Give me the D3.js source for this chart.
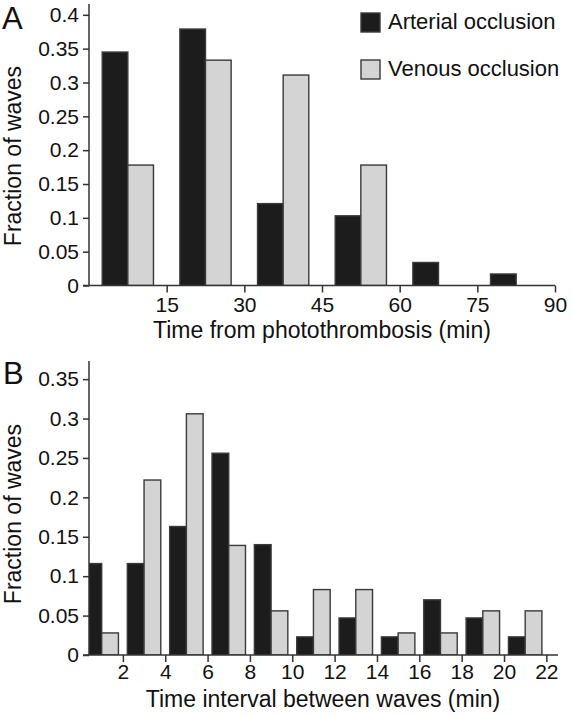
<!DOCTYPE html>
<html>
<head>
<meta charset="utf-8">
<script src="https://cdn.jsdelivr.net/npm/d3@7"></script>
<style>
  html, body { margin: 0; padding: 0; background: #fff; }
  svg { display: block; }
  text { font-family: "Liberation Sans", Arial, Helvetica, sans-serif; fill: #111; }
</style>
</head>
<body>
<svg id="chart" width="573" height="716"></svg>
<script>
// ---------- DATA ----------
const seriesNames = ["Arterial occlusion", "Venous occlusion"];

// Panel A: time from photothrombosis, 15-min bins
const binsA = [0, 15, 30, 45, 60, 75];           // bin starts (min)
const binWidthA = 15;
const arterialA = [0.345, 0.379, 0.121, 0.103, 0.034, 0.017];
const venousA   = [0.178, 0.333, 0.311, 0.178, 0, 0];
const yTicksA = [0, 0.05, 0.1, 0.15, 0.2, 0.25, 0.3, 0.35, 0.4];
const xTicksA = [15, 30, 45, 60, 75, 90];

// Panel B: time interval between waves, 2-min bins
const binsB = [0, 2, 4, 6, 8, 10, 12, 14, 16, 18, 20];
const binWidthB = 2;
const arterialB = [0.116, 0.116, 0.163, 0.256, 0.140, 0.023, 0.047, 0.023, 0.070, 0.047, 0.023];
const venousB   = [0.028, 0.222, 0.306, 0.139, 0.056, 0.083, 0.083, 0.028, 0.028, 0.056, 0.056];
const yTicksB = [0, 0.05, 0.1, 0.15, 0.2, 0.25, 0.3, 0.35];
const xTicksB = [2, 4, 6, 8, 10, 12, 14, 16, 18, 20, 22];

// ---------- STYLE ----------
const colors = ["#1c1c1c", "#d4d4d4"];
const strokeCol = "#3a3a3a";
const axisCol = "#333";
const fsTick = 21;
const fsTitle = 23;
const fsLegend = 22;

const svg = d3.select("#chart");
const fmt = d => String(+d.toFixed(2));

function panel(opts) {
  const g = svg.append("g");
  const x = d3.scaleLinear().domain(opts.xDomain).range(opts.xRange);
  const y = d3.scaleLinear().domain(opts.yDomain).range(opts.yRange);

  const clipId = "clip" + opts.label;
  svg.append("clipPath").attr("id", clipId)
    .append("rect")
    .attr("x", opts.xRange[0]).attr("y", opts.yRange[1])
    .attr("width", opts.xRange[1] - opts.xRange[0])
    .attr("height", opts.yRange[0] - opts.yRange[1]);

  // bars
  const barG = g.append("g").attr("clip-path", `url(#${clipId})`);
  const groupFrac = opts.groupFrac;
  const series = [opts.a, opts.v];
  series.forEach((vals, si) => {
    barG.selectAll(null)
      .data(opts.bins.map((b, i) => ({ b, v: vals[i] })).filter(d => d.v > 0))
      .enter().append("rect")
      .attr("x", d => {
        const c = d.b + opts.binWidth / 2;
        const w = opts.binWidth * groupFrac / 2;
        return x(c - w + si * w);
      })
      .attr("width", x(opts.binWidth * groupFrac / 2) - x(0))
      .attr("y", d => y(d.v))
      .attr("height", d => y(0) - y(d.v))
      .attr("fill", colors[si])
      .attr("stroke", strokeCol)
      .attr("stroke-width", 1.4);
  });

  // y axis
  const yAxis = d3.axisLeft(y).tickValues(opts.yTicks).tickFormat(fmt)
    .tickSize(6).tickPadding(4);
  const ya = g.append("g").attr("transform", `translate(${opts.xRange[0]},0)`).call(yAxis);
  ya.select(".domain").attr("d", `M0,${opts.yRange[1]}V${opts.yRange[0]}`);

  // x axis
  const xAxis = d3.axisBottom(x).tickValues(opts.xTicks).tickFormat(d => d)
    .tickSize(7).tickPadding(opts.xPad);
  const xa = g.append("g").attr("transform", `translate(0,${opts.yRange[0]})`).call(xAxis);
  xa.select(".domain").attr("d", `M${opts.xRange[0] - 6},0H${opts.xRange[1]}`);

  [ya, xa].forEach(a => {
    a.selectAll(".domain, .tick line").attr("stroke", axisCol).attr("stroke-width", 1.5);
    a.selectAll(".tick text").style("font-size", fsTick + "px").attr("fill", "#111");
  });

  // axis titles
  g.append("text")
    .attr("x", opts.xTitlePos[0]).attr("y", opts.xTitlePos[1])
    .attr("text-anchor", "middle").style("font-size", fsTitle + "px")
    .text(opts.xTitle);
  g.append("text")
    .attr("transform", `translate(${opts.yTitlePos[0]},${opts.yTitlePos[1]}) rotate(-90)`)
    .attr("text-anchor", "middle").style("font-size", fsTitle + "px")
    .text("Fraction of waves");

  // panel label
  g.append("text")
    .attr("x", opts.labelPos[0]).attr("y", opts.labelPos[1])
    .style("font-size", "31px")
    .text(opts.label);
  return { x, y };
}

panel({
  label: "A", labelPos: [2, 29],
  bins: binsA, binWidth: binWidthA, a: arterialA, v: venousA,
  xDomain: [0, 90], xRange: [89, 555],
  yDomain: [0, 0.416], yRange: [285.5, 4],
  yTicks: yTicksA, xTicks: xTicksA, groupFrac: 0.66, xPad: 5,
  xTitle: "Time from photothrombosis (min)", xTitlePos: [322, 338],
  yTitlePos: [21, 156]
});

panel({
  label: "B", labelPos: [3, 384],
  bins: binsB, binWidth: binWidthB, a: arterialB, v: venousB,
  xDomain: [0.4, 22.55], xRange: [89, 558],
  yDomain: [0, 0.373], yRange: [655, 361],
  yTicks: yTicksB, xTicks: xTicksB, groupFrac: 0.79, xPad: 2,
  xTitle: "Time interval between waves (min)", xTitlePos: [323, 707],
  yTitlePos: [21, 514]
});

// legend
const legend = svg.append("g");
seriesNames.forEach((name, i) => {
  const ly = 13 + i * 47;
  legend.append("rect")
    .attr("x", 361).attr("y", ly).attr("width", 19).attr("height", 19)
    .attr("fill", colors[i]).attr("stroke", strokeCol).attr("stroke-width", 1.4);
  legend.append("text")
    .attr("x", 388).attr("y", ly + 16)
    .style("font-size", fsLegend + "px")
    .text(name);
});
</script>
</body>
</html>
